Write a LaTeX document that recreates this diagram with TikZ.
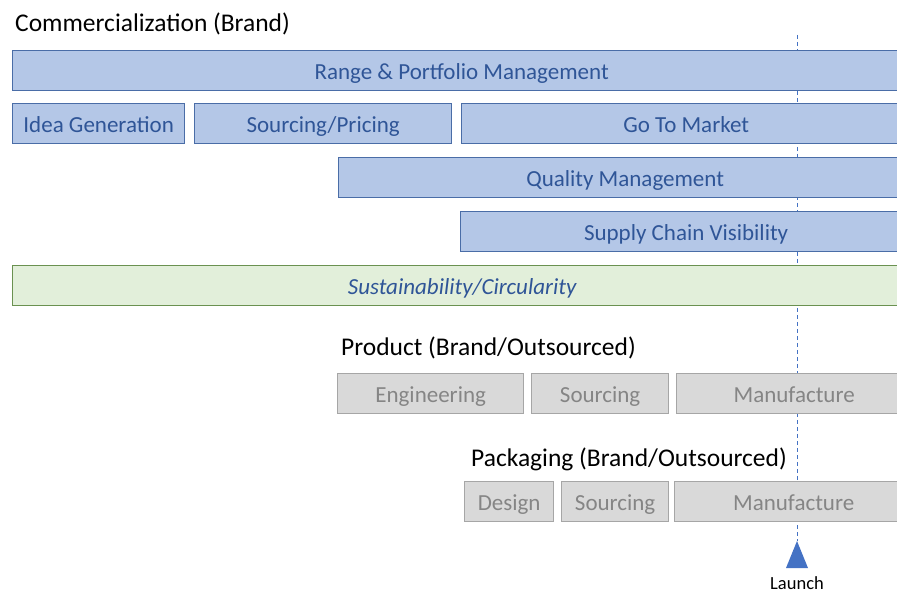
\documentclass[tikz,border=0pt]{standalone}
\usepackage{fontspec}
\setmainfont{Carlito}
\definecolor{bluefill}{HTML}{B4C7E7}
\definecolor{blueline}{HTML}{4A6DA7}
\definecolor{bluetext}{HTML}{2F5597}
\definecolor{grayfill}{HTML}{D9D9D9}
\definecolor{grayline}{HTML}{A6A6A6}
\definecolor{graytext}{HTML}{858585}
\definecolor{greenfill}{HTML}{E2EFDA}
\definecolor{greenline}{HTML}{6A9150}
\definecolor{launchblue}{HTML}{4472C4}
\tikzset{
  bar/.style={draw=blueline, fill=bluefill, text=bluetext, line width=1.3pt,
    anchor=north west, minimum height=40, inner sep=0pt,
    text height=18pt, text depth=1pt,
    font=\fontsize{23}{27}\selectfont},
  greenbar/.style={bar, draw=greenline, fill=greenfill,
    font=\fontsize{23}{27}\selectfont\itshape},
  graybar/.style={bar, draw=grayline, fill=grayfill, text=graytext},
  heading/.style={anchor=base west, inner sep=0pt, font=\fontsize{25.5}{30}\selectfont},
  milestone/.style={dashed, dash pattern=on 4pt off 3pt, draw=launchblue, line width=0.8pt}
}
\begin{document}
\begin{tikzpicture}[x=1pt, y=-1pt]
  \useasboundingbox (0,0) rectangle (897,593);
  \clip (0,0) rectangle (897,593);

  % launch marker line, behind the bars
  \coordinate (ltop) at (797,35);
  \coordinate (apex) at (797,541);
  \draw[milestone] (ltop) -- (apex);
  \fill[launchblue] (apex) -- (786,568) -- (808,568) -- cycle;
  \node[font=\fontsize{18.5}{22}\selectfont, inner sep=0pt, anchor=base] (launch) at (797,589) {Launch};

  % commercialization
  \node[heading] (comm) at (15,32) {Commercialization (Brand)};
  \node[bar, minimum width=898] (range) at (12,50) {Range \& Portfolio Management};
  \node[bar, minimum width=172] (idea) at (12,103) {Idea Generation};
  \node[bar, minimum width=257] (srcp) at (194,103) {Sourcing/Pricing};
  \node[bar, minimum width=449] (gtm) at (461,103) {Go To Market};
  \node[bar, minimum width=573] (qual) at (338,157) {Quality Management};
  \node[bar, minimum width=451] (scv) at (460,211) {Supply Chain Visibility};
  \node[greenbar, minimum width=899] (sust) at (12,265) {Sustainability/Circularity};

  % product
  \node[heading] (prod) at (341,356) {Product (Brand/Outsourced)};
  \node[graybar, minimum width=186] (eng) at (337,373) {Engineering};
  \node[graybar, minimum width=137] (psrc) at (531,373) {Sourcing};
  \node[graybar, minimum width=235] (pman) at (676,373) {Manufacture};

  % packaging
  \node[heading] (pack) at (471,466) {Packaging (Brand/Outsourced)};
  \node[graybar, minimum width=89] (des) at (464,481) {Design};
  \node[graybar, minimum width=107] (ksrc) at (561,481) {Sourcing};
  \node[graybar, minimum width=238] (kman) at (674,481) {Manufacture};
\end{tikzpicture}
\end{document}
